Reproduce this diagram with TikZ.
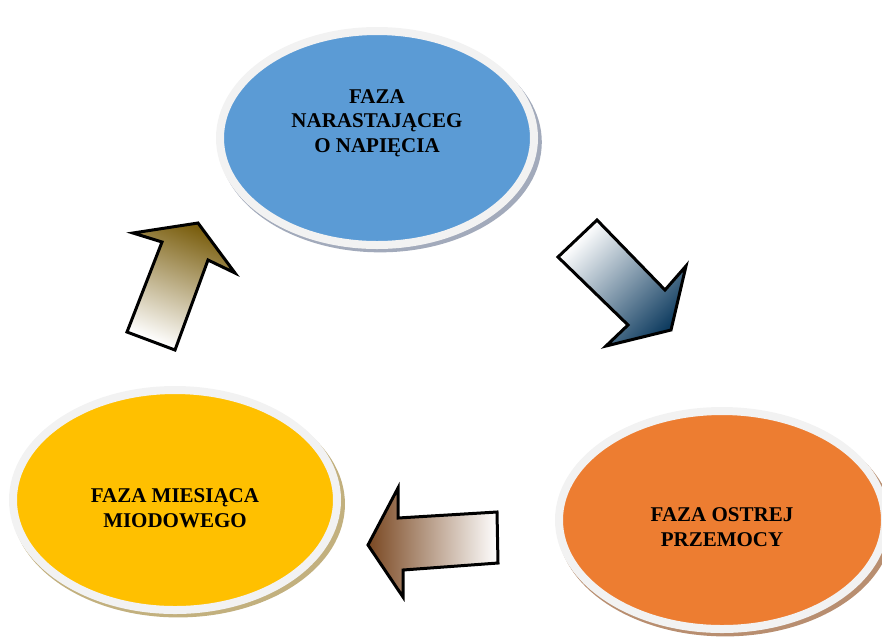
\documentclass[tikz,border=0pt]{standalone}
\usepackage{fontspec}
\setmainfont{Liberation Serif}
\usetikzlibrary{shapes.geometric,shadows,positioning}
\definecolor{fazablue}{HTML}{5B9BD5}
\definecolor{fazaorange}{HTML}{ED7D31}
\definecolor{fazayellow}{HTML}{FFC000}
\definecolor{ringgray}{HTML}{F2F2F2}
\definecolor{shblue}{HTML}{A2AABB}
\definecolor{shorange}{HTML}{B88E70}
\definecolor{shyellow}{HTML}{C2B07E}
\definecolor{arrnavy}{HTML}{0F3C60}
\definecolor{arrbrown}{HTML}{7A4822}
\definecolor{arrolive}{HTML}{7A5E0E}
\tikzset{
  faza/.style={ellipse, draw=ringgray, line width=8pt, inner sep=0pt},
  fazashadow/.style={drop shadow={shadow xshift=3pt, shadow yshift=-4pt, shadow scale=1.03, fill=#1, opacity=1}},
  fazatext/.style={font=\bfseries\fontsize{21}{24.5}\selectfont, align=center},
  blockarrow/.style={draw=black, line width=3pt, line join=miter, miter limit=10}
}
\begin{document}
\begin{tikzpicture}[x=1pt,y=-1pt]
\useasboundingbox (0,0) rectangle (882,641);
% the three phases
\node[faza, fill=fazablue, fazashadow=shblue, minimum width=314pt, minimum height=214pt] (narast) at (377,138) {};
\node[faza, fill=fazaorange, fazashadow=shorange, minimum width=326pt, minimum height=218pt] (ostra) at (722,520) {};
\node[faza, fill=fazayellow, fazashadow=shyellow, minimum width=324pt, minimum height=220pt] (miesiac) at (175,500) {};
\node[fazatext] (narastT) at ([yshift=15pt]narast.center) {FAZA\\NARASTAJĄCEG\\O NAPIĘCIA};
\node[fazatext] (ostraT) at ([yshift=-7pt]ostra.center) {FAZA OSTREJ\\PRZEMOCY};
\node[fazatext] (miesiacT) at ([yshift=-8pt]miesiac.center) {FAZA MIESIĄCA\\MIODOWEGO};
% block arrows
\path[blockarrow, top color=white, bottom color=arrnavy, shading angle=45]
  (558,257) -- (597,220) -- (665,290) -- (686,266) -- (671,330) -- (606,346) -- (628,325) -- cycle;
\path[blockarrow, left color=arrbrown, right color=white]
  (497,512) -- (498,563) -- (403,570) -- (403,597) -- (368,545) -- (398,488) -- (398,518) -- cycle;
\path[blockarrow, top color=arrolive, bottom color=white, shading angle=-22]
  (127,332) -- (175,350) -- (208,260) -- (235,273) -- (198,223) -- (133,233) -- (162,242) -- cycle;
\end{tikzpicture}
\end{document}
